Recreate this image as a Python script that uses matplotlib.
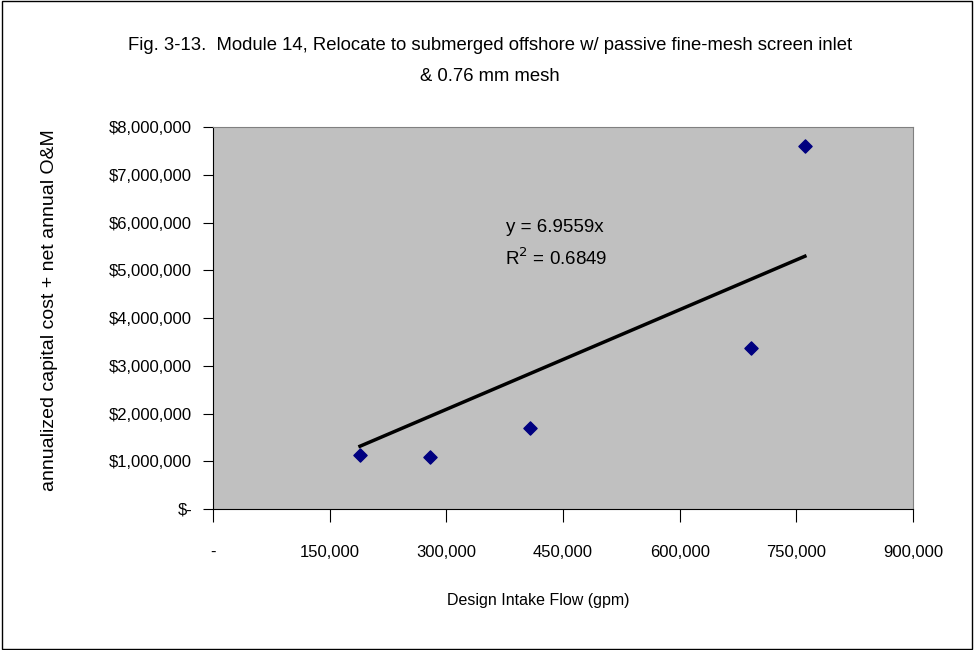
import matplotlib
matplotlib.use("Agg")
import matplotlib.pyplot as plt
import numpy as np
from matplotlib.ticker import FuncFormatter

# data
flow_gpm = [189000, 279000, 407000, 692000, 761000]
cost_usd = [1130000, 1090000, 1700000, 3370000, 7600000]
slope = 6.9559
r_squared = 0.6849

title_text = ("Fig. 3-13.  Module 14, Relocate to submerged offshore w/ passive fine-mesh screen inlet\n"
              "& 0.76 mm mesh")
x_label = "Design Intake Flow (gpm)"
y_label = "annualized capital cost + net annual O&M"

plt.rcParams['font.family'] = ['Liberation Sans Narrow', 'Liberation Sans', 'DejaVu Sans']

W, H = 974, 650
fig = plt.figure(figsize=(W / 100, H / 100), dpi=100)
fig.patch.set_facecolor("white")
fig.patches.append(plt.Rectangle((0.002, 0.002), 0.996, 0.996, transform=fig.transFigure,
                                 fill=False, edgecolor="black", linewidth=1.0))

ax = fig.add_axes([213 / W, 1 - 509 / H, 700 / W, 382 / H])
ax.set_facecolor("#C0C0C0")

ax.scatter(flow_gpm, cost_usd, marker="D", s=45, color="#000080", zorder=3)

# linear trendline through origin
xs = np.array([min(flow_gpm), max(flow_gpm)])
ax.plot(xs, slope * xs, color="black", linewidth=2.5, zorder=2)

fig.text(555 / W, 1 - 227 / H, f"y = {slope}x", ha="center", va="center", fontsize=13.5)
fig.text(556 / W, 1 - 258 / H, f"R$^2$ = {r_squared}", ha="center", va="center", fontsize=13.5)

ax.set_xlim(0, 900000)
ax.set_ylim(0, 8000000)
ax.set_xticks(np.arange(0, 900001, 150000))
ax.set_yticks(np.arange(0, 8000001, 1000000))


def x_fmt(v, pos):
    return "-" if v == 0 else f"{int(v):,}"


def y_fmt(v, pos):
    return "$-" if v == 0 else f"${int(v):,}"


ax.xaxis.set_major_formatter(FuncFormatter(x_fmt))
ax.yaxis.set_major_formatter(FuncFormatter(y_fmt))
ax.tick_params(axis="x", direction="out", length=9, pad=17, labelsize=12, color="black")
ax.tick_params(axis="y", direction="out", length=7, pad=8, labelsize=12, color="black")

for side in ["top", "right"]:
    ax.spines[side].set_color("#808080")
ax.spines["left"].set_color("black")
ax.spines["bottom"].set_color("black")

fig.text(538 / W, 1 - 600 / H, x_label, ha="center", va="center", fontsize=11.5)
fig.text(50 / W, 1 - 310 / H, y_label, ha="center", va="center", rotation=90, fontsize=14)

fig.text(490 / W, 1 - 61 / H, title_text, ha="center", va="center", fontsize=13.3, linespacing=2.1)

fig.savefig("out.png", dpi=100)
